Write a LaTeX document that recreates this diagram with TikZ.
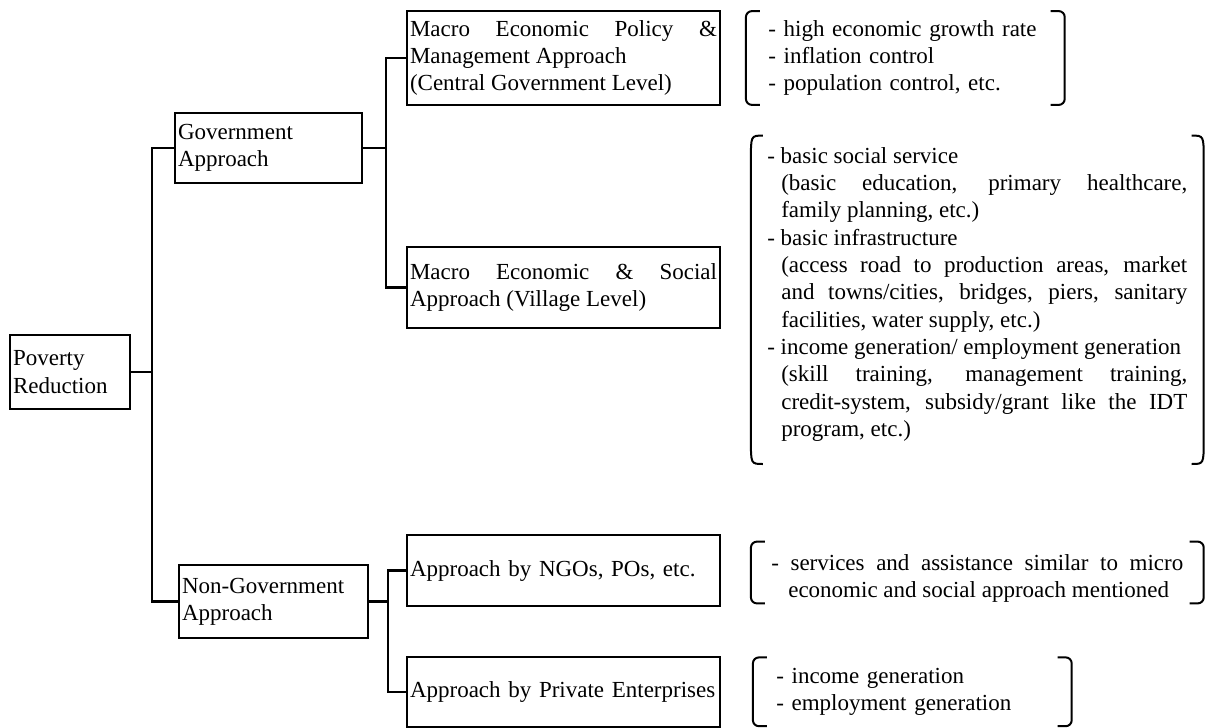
\documentclass[tikz,border=0pt]{standalone}
\usepackage{fontspec}
\setmainfont{Liberation Serif}
\usetikzlibrary{positioning}
\setlength{\parindent}{0pt}
\newcommand{\tiret}[1]{\par\hangindent=#1\hangafter=1 - }

\begin{document}
\begin{tikzpicture}[x=0.5pt, y=-0.5pt, font=\fontsize{11.5}{13.65}\selectfont,
    box/.style={draw, line width=0.9pt, inner xsep=1.5pt, inner ysep=0pt, align=justify},
    conn/.style={line width=1.3pt},
    brk/.style={line width=1pt},
    liste/.style={inner ysep=0pt, align=justify}]

    \useasboundingbox (0,0) rectangle (1205,728);

    % Définitions des boîtes
    \node[box, align=left, text width=57pt, minimum height=37pt] (pov) at (70,372) {Poverty\newline Reduction};
    \node[box, align=left, text width=90.5pt, minimum height=35pt] (gov) at (268.5,148) {Government\newline Approach};
    \node[box, align=left, text width=91.5pt, minimum height=36.5pt] (non) at (273.5,601.5) {Non-Government\newline Approach};
    \node[box, text width=153.5pt, minimum height=47pt] (mac1) at (563.5,58) {Macro Economic Policy \&\linebreak Management Approach\newline (Central Government Level)};
    \node[box, text width=153.5pt, minimum height=40.5pt, below=70pt of mac1] (mac2) {Macro Economic \& Social\linebreak Approach (Village Level)};
    \node[box, align=left, text width=153.5pt, minimum height=35.5pt] (ngo) at (563.5,570.5) {Approach by NGOs, POs, etc.};
    \node[box, align=left, text width=153.5pt, minimum height=35pt, below=24.5pt of ngo] (priv) {Approach by Private Enterprises};

    % Listes entre crochets
    \node[liste, align=left, inner xsep=11pt, text width=137pt, minimum height=46.5pt, right=12.5pt of mac1] (lst1)
        {- high economic growth rate\newline - inflation control\newline - population control, etc.};
    \node[liste, inner xsep=8pt, text width=210pt, minimum height=160pt, right=15pt of mac2, yshift=-6.25pt] (lst2)
        {\tiret{7pt}basic social service\newline (basic education, primary healthcare,\linebreak family planning, etc.)
         \tiret{7pt}basic infrastructure\newline (access road to production areas, market\linebreak and towns/cities, bridges, piers, sanitary\linebreak facilities, water supply, etc.)
         \tiret{7pt}income generation/ employment generation\newline (skill training, management training,\linebreak credit-system, subsidy/grant like the IDT\linebreak program, etc.)\par\rule{0pt}{6pt}};
    \node[liste, inner xsep=10pt, text width=206pt, minimum height=30.5pt, right=15pt of ngo, yshift=-1pt] (lst3)
        {\tiret{8.5pt}services and assistance similar to micro\linebreak economic and social approach mentioned\par};
    \node[liste, align=left, inner xsep=11.5pt, text width=136pt, minimum height=34pt, right=16pt of priv] (lst4)
        {- income generation\newline - employment generation};

    % Lignes de liaison
    \coordinate (t1) at (152,0);
    \coordinate (t2) at (386,0);
    \coordinate (t3) at (388,0);
    \draw[conn] (gov.west) -- (gov.west -| t1) |- (non.west);
    \draw[conn] (pov.east) -- (pov.east -| t1);
    \draw[conn] (mac1.west) -- (mac1.west -| t2) |- (mac2.west);
    \draw[conn] (gov.east) -- (gov.east -| t2);
    \draw[conn] (ngo.west) -- (ngo.west -| t3) |- (priv.west);
    \draw[conn] (non.east) -- (non.east -| t3);

    % Crochets
    \foreach \n in {lst1, lst3, lst4} {
        \draw[brk, rounded corners=3pt] ([xshift=7pt]\n.north west) -- (\n.north west) -- (\n.south west) -- ([xshift=7pt]\n.south west);
        \draw[brk, rounded corners=3pt] ([xshift=-7pt]\n.north east) -- (\n.north east) -- (\n.south east) -- ([xshift=-7pt]\n.south east);
    }
    \draw[brk] ([xshift=6pt]lst2.north west) .. controls (lst2.north west) .. ([yshift=-12pt]lst2.north west)
        -- ([yshift=12pt]lst2.south west) .. controls (lst2.south west) .. ([xshift=6pt]lst2.south west);
    \draw[brk] ([xshift=-6pt]lst2.north east) .. controls (lst2.north east) .. ([yshift=-12pt]lst2.north east)
        -- ([yshift=12pt]lst2.south east) .. controls (lst2.south east) .. ([xshift=-6pt]lst2.south east);

\end{tikzpicture}
\end{document}
